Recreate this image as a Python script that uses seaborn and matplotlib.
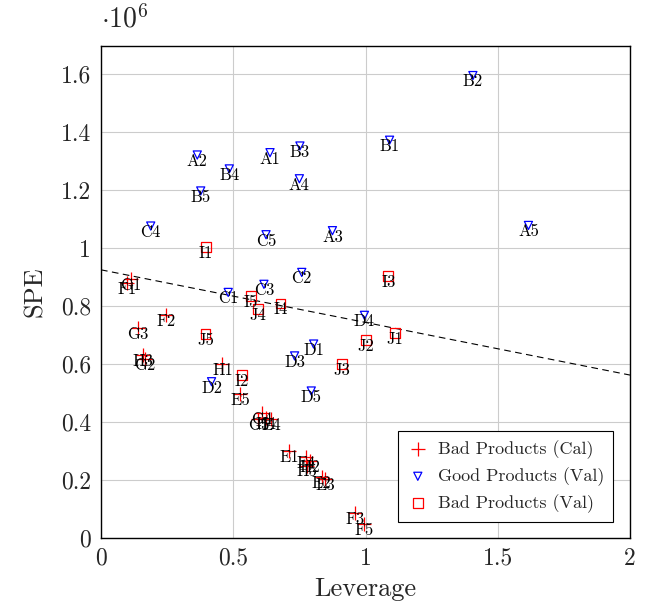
# Leverage vs SPE scatter with threshold line
import matplotlib
matplotlib.use("Agg")
import matplotlib.pyplot as plt
import pandas as pd
import seaborn as sns

# Bad products, calibration set (SPE in units of 1e6)
cal_names = ['F1', 'G1', 'F2', 'G3', 'H3', 'G2', 'H1', 'E5', 'G4', 'G5',
             'H4', 'E4', 'E1', 'F4', 'H2', 'H5', 'E2', 'E3', 'F3', 'F5']
cal_lev = [0.098, 0.112, 0.246, 0.140, 0.160, 0.165, 0.459, 0.526, 0.607, 0.595,
           0.624, 0.643, 0.711, 0.775, 0.790, 0.777, 0.834, 0.847, 0.960, 0.996]
cal_spe = [0.880, 0.893, 0.769, 0.725, 0.631, 0.617, 0.599, 0.497, 0.430, 0.410,
           0.413, 0.410, 0.301, 0.280, 0.266, 0.250, 0.211, 0.202, 0.085, 0.048]

# Good products, validation set
good_names = ['A1', 'A2', 'A3', 'A4', 'A5', 'B1', 'B2', 'B3', 'B4', 'B5',
              'C1', 'C2', 'C3', 'C4', 'C5', 'D1', 'D2', 'D3', 'D4', 'D5']
good_lev = [0.639, 0.364, 0.875, 0.750, 1.616, 1.091, 1.406, 0.752, 0.485, 0.377,
            0.481, 0.759, 0.616, 0.188, 0.624, 0.804, 0.418, 0.732, 0.996, 0.795]
good_spe = [1.329, 1.321, 1.060, 1.239, 1.078, 1.372, 1.595, 1.352, 1.273, 1.197,
            0.847, 0.916, 0.875, 1.076, 1.046, 0.669, 0.539, 0.628, 0.768, 0.507]

# Bad products, validation set
val_names = ['I1', 'I2', 'I3', 'I4', 'I5', 'J1', 'J2', 'J3', 'J4', 'J5']
val_lev = [0.397, 0.532, 1.086, 0.678, 0.567, 1.112, 1.003, 0.912, 0.594, 0.395]
val_spe = [1.004, 0.563, 0.903, 0.809, 0.834, 0.708, 0.683, 0.600, 0.789, 0.703]

# Limit line
limit_lev = [0.0, 2.0]
limit_spe = [0.925, 0.562]

cal = pd.DataFrame({'name': cal_names, 'lev': cal_lev, 'spe': cal_spe})
good = pd.DataFrame({'name': good_names, 'lev': good_lev, 'spe': good_spe})
val = pd.DataFrame({'name': val_names, 'lev': val_lev, 'spe': val_spe})

sns.set_style("whitegrid")
plt.rcParams['font.family'] = 'serif'
plt.rcParams['font.serif'] = ['cmr10', 'DejaVu Serif']
plt.rcParams['mathtext.fontset'] = 'cm'
plt.rcParams['axes.unicode_minus'] = False
plt.rcParams['axes.formatter.use_mathtext'] = True

fig = plt.figure(figsize=(6.51, 6.08), dpi=100)
ax = fig.add_axes([101 / 651, 70 / 608, 529 / 651, 492 / 608])

ax.plot(limit_lev, limit_spe, color='black', lw=0.8, ls=(0, (6, 4)), zorder=2)

sns.scatterplot(data=cal, x='lev', y='spe', marker='+', color='red',
                edgecolor='red', s=95, linewidth=0.9,
                label='Bad Products (Cal)', ax=ax, zorder=3)
sns.scatterplot(data=good, x='lev', y='spe', marker='v', facecolors='none',
                edgecolor='blue', s=34, linewidth=0.9,
                label='Good Products (Val)', ax=ax, zorder=3)
sns.scatterplot(data=val, x='lev', y='spe', marker='s', facecolors='none',
                edgecolor='red', s=48, linewidth=0.9,
                label='Bad Products (Val)', ax=ax, zorder=3)

# point labels
for df in (cal, good, val):
    for _, r in df.iterrows():
        ax.annotate(r['name'], (r['lev'], r['spe']), xytext=(0, -4.5),
                    textcoords='offset points', ha='center', va='center',
                    fontsize=12, color='black', zorder=4)

ax.set_xlim(0, 2)
ax.set_ylim(0, 1.697)
ax.set_xticks([0, 0.5, 1, 1.5, 2])
ax.set_xticklabels(['0', '0.5', '1', '1.5', '2'])
ax.set_yticks([0, 0.2, 0.4, 0.6, 0.8, 1.0, 1.2, 1.4, 1.6])
ax.set_yticklabels(['0', '0.2', '0.4', '0.6', '0.8', '1', '1.2', '1.4', '1.6'])
ax.tick_params(labelsize=17, length=0, pad=7)
ax.grid(True, color='#cccccc', lw=0.8)
for sp in ax.spines.values():
    sp.set_color('black')
    sp.set_linewidth(1.0)

ax.set_xlabel('Leverage', fontsize=19, labelpad=5)
ax.set_ylabel('SPE', fontsize=19, labelpad=10)
ax.text(0.0, 1.025, r'$\cdot 10^6$', transform=ax.transAxes, fontsize=20,
        ha='left', va='bottom')

leg = ax.legend(loc='lower right', bbox_to_anchor=(0.968, 0.033),
                borderaxespad=0, fontsize=13,
                frameon=True, fancybox=False, framealpha=1, edgecolor='black',
                handletextpad=0.5, borderpad=0.5, labelspacing=0.45,
                handlelength=1.2)
leg.get_frame().set_linewidth(0.8)

plt.savefig('out.png', dpi=100)
